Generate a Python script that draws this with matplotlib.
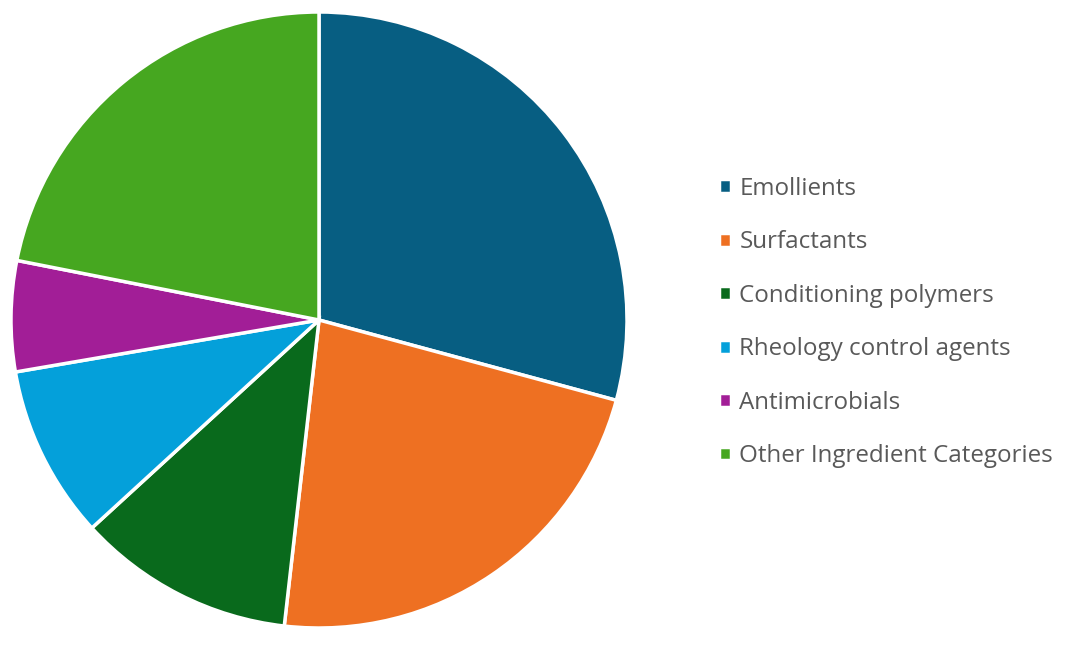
import matplotlib.pyplot as plt

labels = ['Emollients', 'Surfactants', 'Conditioning polymers',
          'Rheology control agents', 'Antimicrobials', 'Other Ingredient Categories']
shares = [29.2, 22.6, 11.4, 9.1, 5.8, 21.9]
colors = ['#075E82', '#EE7022', '#096A1C', '#04A0DA', '#A21E97', '#46A720']

plt.rcParams['font.family'] = ['Open Sans', 'DejaVu Sans']

fig = plt.figure(figsize=(10.8, 6.55), dpi=100)
# pie box in pixels: centre (319, 320), radius 308
ax = fig.add_axes([11 / 1080, (655 - 628) / 655, 616 / 1080, 616 / 655])
wedges, _ = ax.pie(shares, colors=colors, startangle=90, counterclock=False,
                   radius=1.0, wedgeprops=dict(edgecolor='white', linewidth=2.5))
ax.set_xlim(-1, 1)
ax.set_ylim(-1, 1)
ax.axis('off')

fig.legend(wedges, labels, loc='upper left', bbox_to_anchor=(697 / 1080, 1 - 155 / 655),
           frameon=False, fontsize=17.4, labelcolor='#595959',
           handlelength=0.5, handleheight=0.5, handletextpad=0.35, labelspacing=1.22)

fig.savefig('out.png', dpi=100)
